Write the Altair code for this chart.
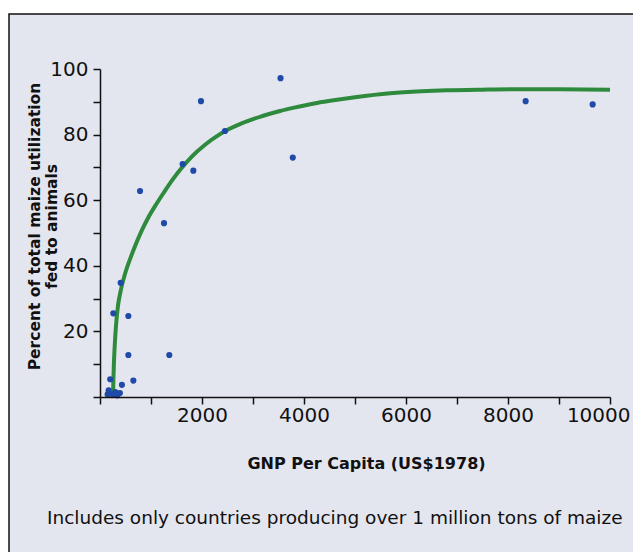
import altair as alt
import pandas as pd

# Scatter points: GNP per capita (US$1978) vs percent of maize fed to animals
gnp = [3540, 1980, 2450, 3780, 1620, 1830, 785, 1255, 405, 261, 556, 556,
       1359, 654, 200, 8346, 9660, 170, 300, 390, 430, 250, 340, 150]
pct = [97.2, 90.2, 81.1, 73.0, 71.0, 69.0, 62.8, 53.0, 34.8, 25.5, 24.7, 12.8,
       12.8, 5.0, 5.4, 90.2, 89.2, 2.0, 1.5, 1.2, 3.7, 0.8, 0.5, 0.8]

# Fitted curve
curve_gnp = [255, 262, 272, 290, 315, 350, 400, 490, 600, 700, 820, 950, 1100,
             1250, 1420, 1600, 1800, 2060, 2300, 2520, 2800, 3170, 3530, 3830,
             4200, 4510, 5000, 5690, 6300, 6800, 7500, 8100, 9000, 10000]
curve_pct = [0.0, 5.0, 10.0, 16.0, 22.0, 27.5, 32.0, 37.5, 42.5, 46.5, 50.8, 54.8, 58.7,
             62.3, 66.2, 69.8, 73.3, 76.9, 79.6, 81.6, 83.6, 85.6, 87.2, 88.3,
             89.5, 90.3, 91.4, 92.6, 93.2, 93.5, 93.7, 93.8, 93.8, 93.7]

x_ticks = [0, 1000, 2000, 3000, 4000, 5000, 6000, 7000, 8000, 9000, 10000]
y_ticks = [0, 10, 20, 30, 40, 50, 60, 70, 80, 90, 100]

x_title = "GNP Per Capita (US$1978)"
y_title = ["Percent of total maize utilization", "fed to animals"]
note = ["Includes only countries producing over 1 million tons of maize"]

pts = pd.DataFrame({"gnp": gnp, "pct": pct})
crv = pd.DataFrame({"gnp": curve_gnp, "pct": curve_pct})
note_df = pd.DataFrame({"t": note})
frame_df = pd.DataFrame({"a": [0]})

xs = alt.Scale(domain=[0, 10000], nice=False, zero=False)
ys = alt.Scale(domain=[0, 100], nice=False)

xaxis = alt.Axis(
    values=x_ticks,
    labelExpr="datum.value % 2000 == 0 && datum.value > 0 ? format(datum.value, 'd') : ''",
    title=x_title, titleFont="DejaVu Sans", titleFontSize=16, titleFontWeight="bold",
    titleX=266, titleY=66, titleAlign="center", titleBaseline="middle",
    labelPadding=1, labelFlush=True, labelFlushOffset=20, labelOverlap=False, zindex=1,
)
yaxis = alt.Axis(
    values=y_ticks,
    labelExpr="datum.value % 20 == 0 && datum.value > 0 ? format(datum.value, 'd') : ''",
    title=y_title, titleFont="DejaVu Sans", titleFontSize=15.5, titleFontWeight="bold",
    titleX=-73, titleY=157, titleAlign="center", titleBaseline="top", titleAngle=-90,
    titleLineHeight=17, labelPadding=5, labelOverlap=False, labelFlush=False, zindex=1,
)

frame = alt.Chart(frame_df).mark_rect(
    fill="#e4e6ef", stroke="#111111", strokeWidth=1.5
).encode(
    x=alt.value(-91), x2=alt.value(600), y=alt.value(-55), y2=alt.value(520)
)

line = alt.Chart(crv).mark_line(
    color="#2e8a3c", strokeWidth=4, interpolate="monotone"
).encode(
    x=alt.X("gnp:Q", scale=xs, axis=xaxis),
    y=alt.Y("pct:Q", scale=ys, axis=yaxis),
    order=alt.Order("gnp:Q"),
)

points = alt.Chart(pts).mark_circle(
    color="#1f4aa8", size=38, opacity=1
).encode(
    x=alt.X("gnp:Q", scale=xs, axis=xaxis),
    y=alt.Y("pct:Q", scale=ys, axis=yaxis),
)

footnote = alt.Chart(note_df).mark_text(
    align="left", baseline="middle", font="DejaVu Sans", fontSize=18.5, color="#111111"
).encode(
    x=alt.value(-53), y=alt.value(449), text="t:N"
)

chart = alt.layer(frame, line, points, footnote).properties(
    width=510, height=328,
    padding={"left": 92, "top": 61, "right": 23, "bottom": 155},
    autosize=alt.AutoSizeParams(type="none"),
    background="white",
).configure_view(stroke=None).configure_axis(
    grid=False, domainColor="#111111", domainWidth=1.5, tickColor="#111111",
    tickWidth=1.5, tickSize=7, labelFont="DejaVu Sans", labelFontSize=20,
    labelColor="#111111", titleColor="#111111",
)

chart.save("out.html", embed_options={"renderer": "svg", "actions": False})
